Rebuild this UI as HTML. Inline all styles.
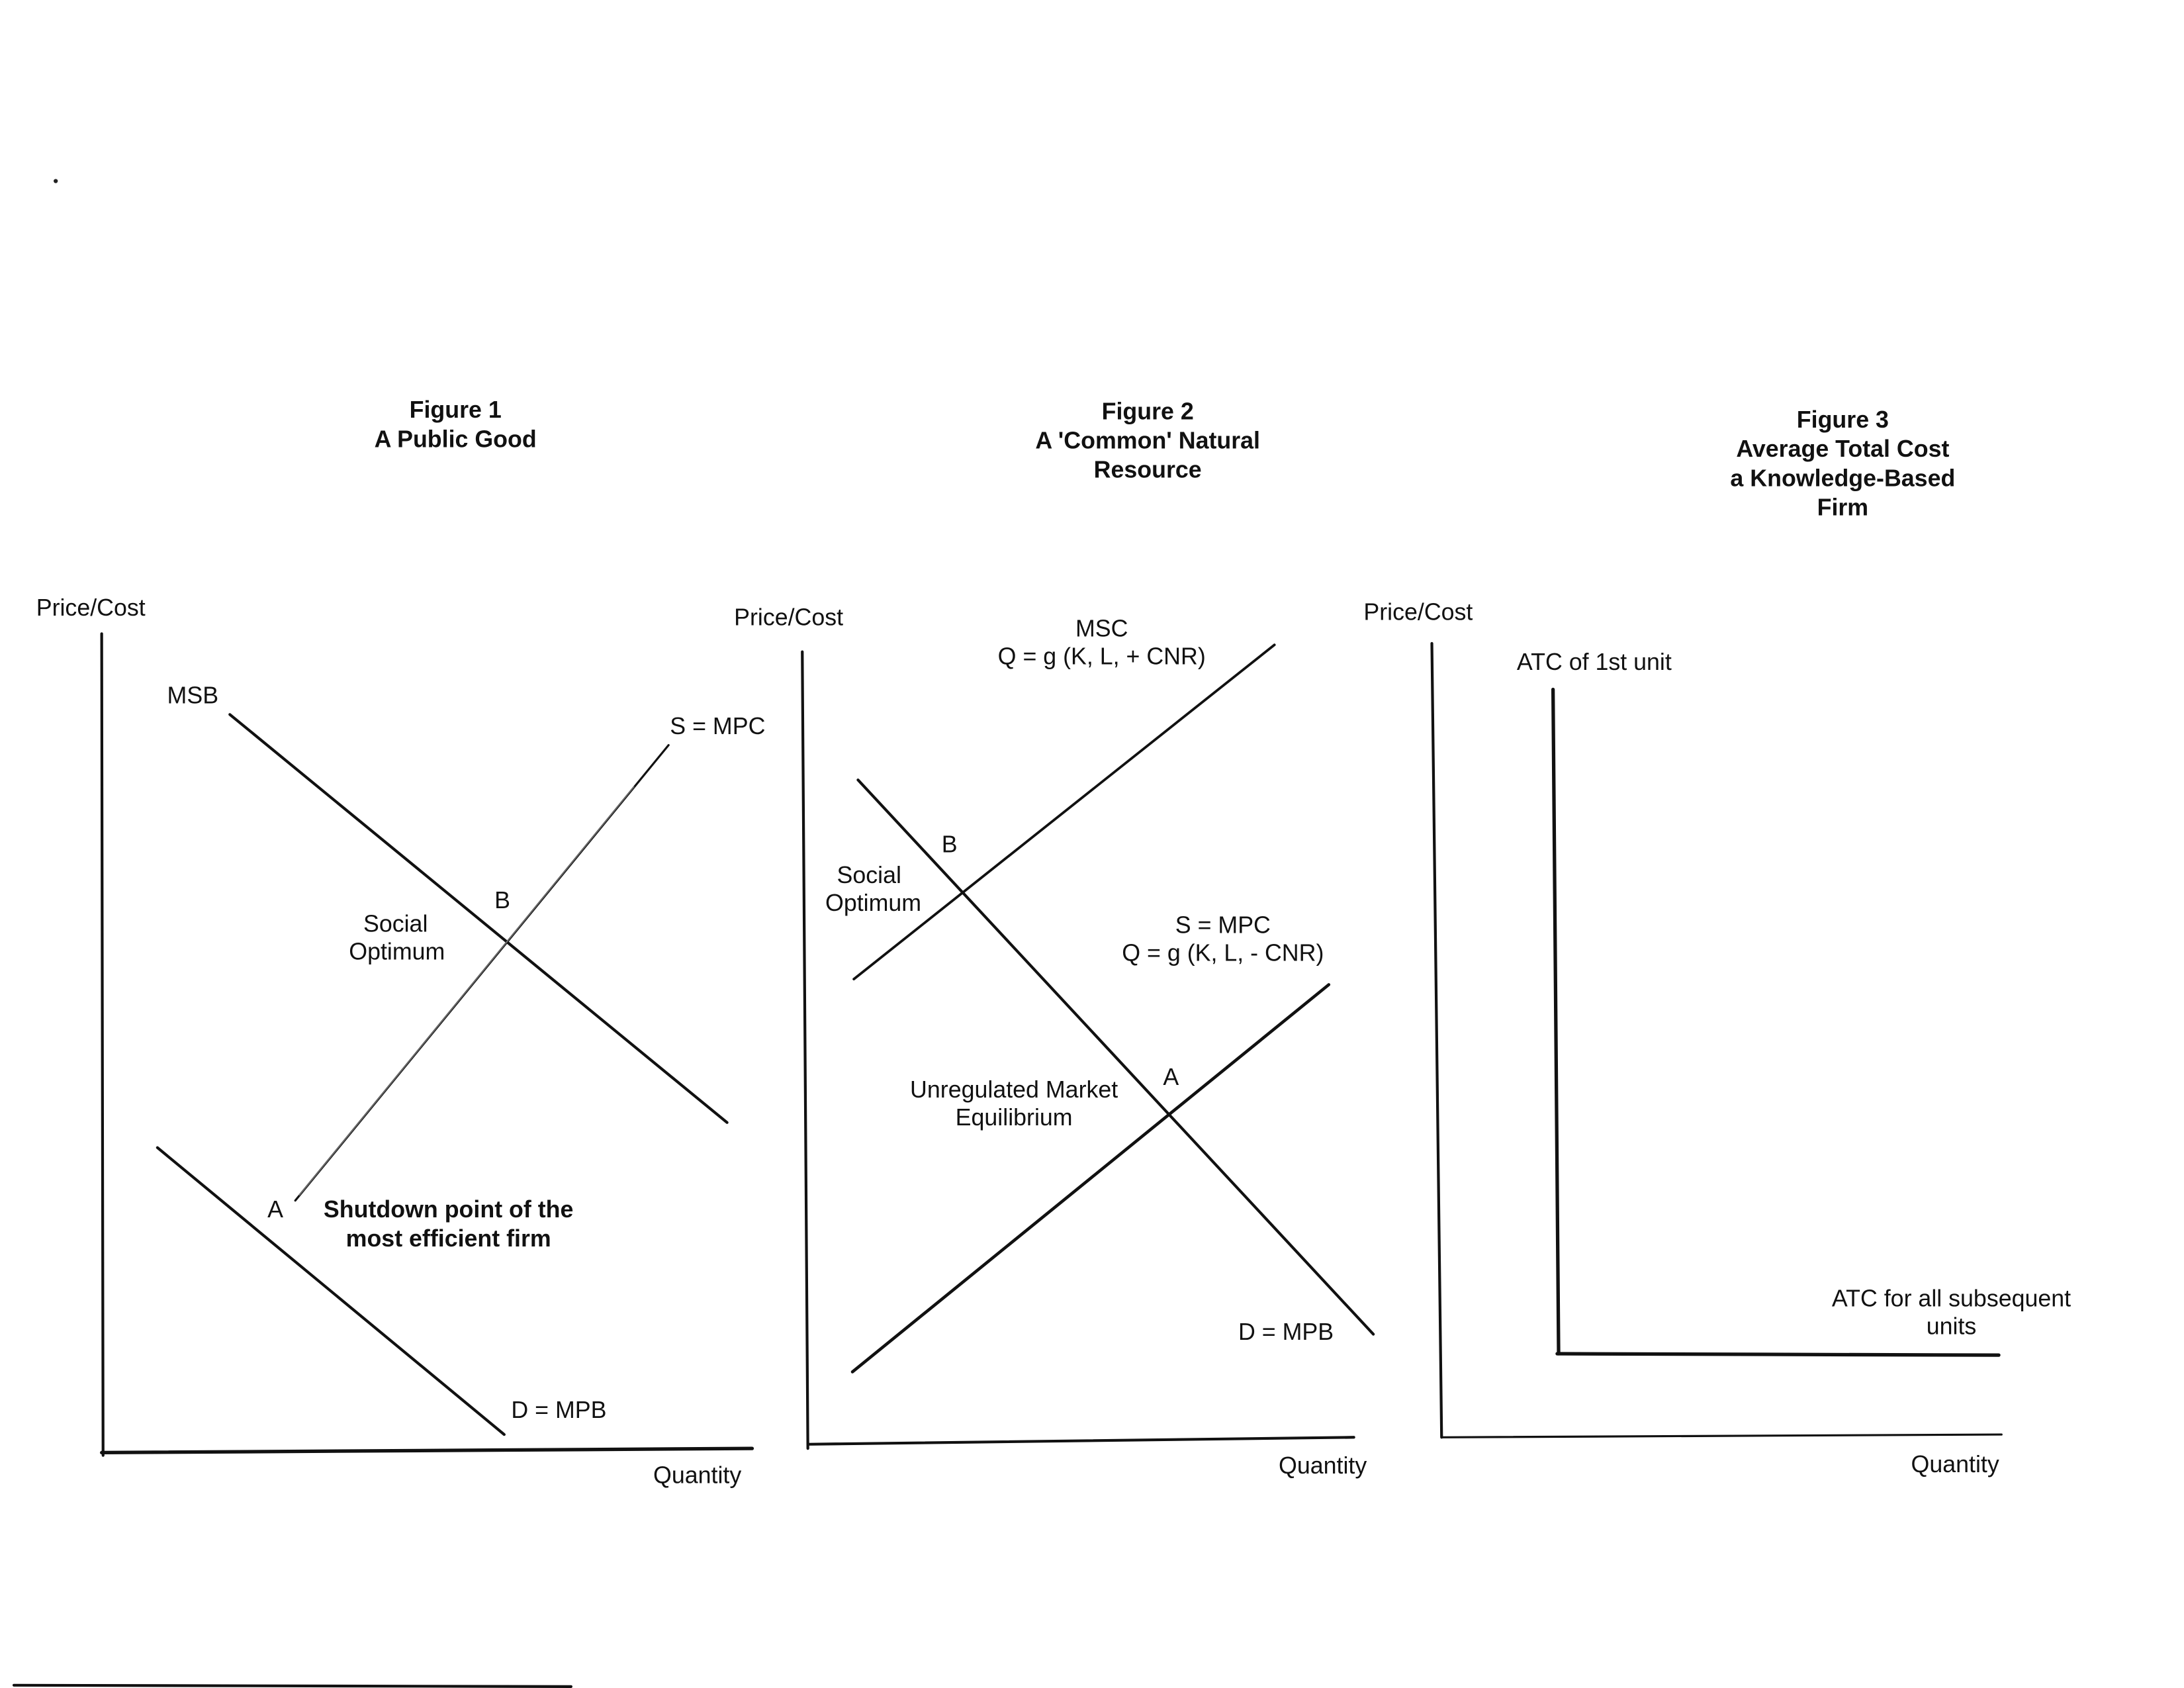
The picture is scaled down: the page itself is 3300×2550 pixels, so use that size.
<!DOCTYPE html>
<html><head><meta charset="utf-8"><style>
html,body{margin:0;padding:0;background:#fff;}
svg{display:block;}
text{font-family:"Liberation Sans",Arial,sans-serif;font-size:17px;fill:#111;}
.b{font-weight:bold;}
</style></head><body>
<svg width="3300" height="2550" viewBox="0 0 1568 1212" preserveAspectRatio="none" xmlns="http://www.w3.org/2000/svg">
<rect width="1568" height="1212" fill="#fff"/>
<circle cx="40" cy="130" r="1.5" fill="#222"/>
<g stroke="#111" fill="none" stroke-linecap="round">
<line x1="73" y1="455" x2="74" y2="1045" stroke-width="2"/>
<line x1="73" y1="1043" x2="540" y2="1040" stroke-width="2.5"/>
<line x1="165" y1="513" x2="522" y2="806" stroke-width="2"/>
<line x1="212" y1="862" x2="480" y2="535" stroke-width="1.5"/>
<line x1="215" y1="858" x2="455" y2="565" stroke-width="1" stroke="#666"/>
<line x1="113" y1="824" x2="362" y2="1030" stroke-width="2"/>
<line x1="576" y1="468" x2="580" y2="1040" stroke-width="2"/>
<line x1="580" y1="1037" x2="972" y2="1032" stroke-width="2"/>
<line x1="613" y1="703" x2="915" y2="463" stroke-width="1.8"/>
<line x1="616" y1="560" x2="986" y2="958" stroke-width="2"/>
<line x1="612" y1="985" x2="954" y2="707" stroke-width="2.2"/>
<line x1="1028" y1="462" x2="1035" y2="1032" stroke-width="2"/>
<line x1="1035" y1="1032" x2="1437" y2="1030" stroke-width="1.5"/>
<line x1="1115" y1="495" x2="1119" y2="972" stroke-width="2.5"/>
<line x1="1118" y1="972" x2="1435" y2="973" stroke-width="2.5"/>
<line x1="10" y1="1210" x2="410" y2="1211" stroke-width="2"/>
</g>
<g text-anchor="middle">
<text x="327" y="300" class="b">Figure 1</text>
<text x="327" y="321" class="b">A Public Good</text>
<text x="824" y="301" class="b">Figure 2</text>
<text x="824" y="322" class="b">A 'Common' Natural</text>
<text x="824" y="343" class="b">Resource</text>
<text x="1323" y="307" class="b">Figure 3</text>
<text x="1323" y="328" class="b">Average Total Cost</text>
<text x="1323" y="349" class="b">a Knowledge-Based</text>
<text x="1323" y="370" class="b">Firm</text>
</g>
<text x="26" y="442">Price/Cost</text>
<text x="120" y="505">MSB</text>
<text x="481" y="527">S = MPC</text>
<text x="355" y="652">B</text>
<text x="284" y="669" text-anchor="middle">Social</text>
<text x="285" y="689" text-anchor="middle">Optimum</text>
<text x="192" y="874">A</text>
<text x="322" y="874" text-anchor="middle" class="b">Shutdown point of the</text>
<text x="322" y="895" text-anchor="middle" class="b">most efficient firm</text>
<text x="367" y="1018">D = MPB</text>
<text x="469" y="1065">Quantity</text>

<text x="527" y="449">Price/Cost</text>
<text x="791" y="457" text-anchor="middle">MSC</text>
<text x="791" y="477" text-anchor="middle">Q = g (K, L, + CNR)</text>
<text x="676" y="612">B</text>
<text x="624" y="634" text-anchor="middle">Social</text>
<text x="627" y="654" text-anchor="middle">Optimum</text>
<text x="878" y="670" text-anchor="middle">S = MPC</text>
<text x="878" y="690" text-anchor="middle">Q = g (K, L, - CNR)</text>
<text x="835" y="779">A</text>
<text x="728" y="788" text-anchor="middle">Unregulated Market</text>
<text x="728" y="808" text-anchor="middle">Equilibrium</text>
<text x="889" y="962">D = MPB</text>
<text x="918" y="1058">Quantity</text>

<text x="979" y="445">Price/Cost</text>
<text x="1089" y="481">ATC of 1st unit</text>
<text x="1401" y="938" text-anchor="middle">ATC for all subsequent</text>
<text x="1401" y="958" text-anchor="middle">units</text>
<text x="1372" y="1057">Quantity</text>
</svg>
</body></html>
